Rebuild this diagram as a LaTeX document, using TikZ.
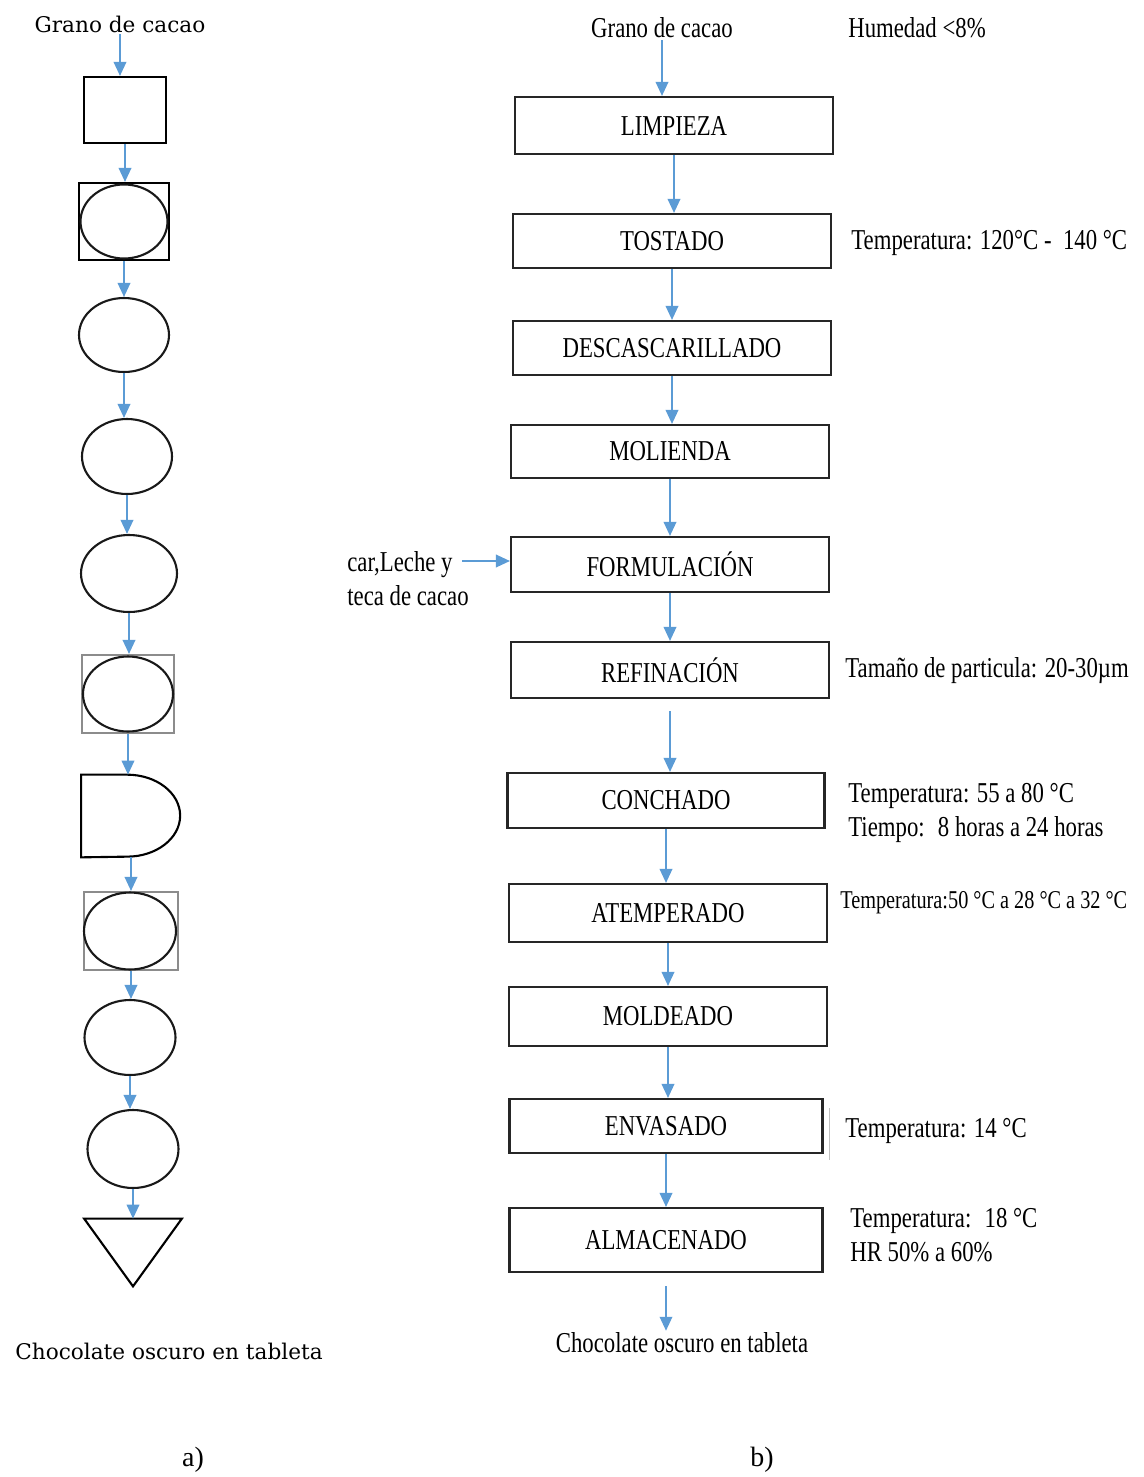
\documentclass[tikz,border=0pt]{standalone}
\usepackage{fontspec}
\setmainfont{Liberation Serif}
\newfontfamily\condfont[FakeStretch=0.79]{Liberation Serif}
\newfontfamily\slabfont{DejaVu Serif}
\usetikzlibrary{positioning, arrows.meta, shapes.geometric, calc}
\definecolor{flowBlue}{HTML}{5B9BD5}
\definecolor{edgeGray}{HTML}{8C8C8C}
\newcommand{\stepfont}{\condfont\fontsize{16.4}{19.3}\selectfont}
\newcommand{\smallstepfont}{\condfont\fontsize{14.6}{17}\selectfont}
\newcommand{\leftfont}{\slabfont\fontsize{12.3}{15}\selectfont}
\tikzset{
  stepbox/.style={rectangle, draw=black!85, line width=1.2pt, inner sep=0pt,
    font=\stepfont},
  flow/.style={-{Triangle[length=2.8mm, width=2.5mm]}, line width=1.1pt, flowBlue},
  opbox/.style={rectangle, draw=black, line width=1.2pt, inner sep=0pt},
  opgray/.style={rectangle, draw=edgeGray, line width=1.2pt, inner sep=0pt},
  opoval/.style={ellipse, draw=black!90, line width=1.2pt, inner sep=0pt},
  holder/.style={rectangle, inner sep=0pt},
  note/.style={anchor=west, align=left, inner sep=0pt, font=\stepfont},
  leftlabel/.style={inner sep=1pt, font=\leftfont},
}

\begin{document}
\begin{tikzpicture}[x=0.02cm, y=-0.02cm]
    \useasboundingbox (0,0) rectangle (1143,1477);
    % ---------------- Panel a: symbols ----------------
    \node[leftlabel] (lg) at (120,24) {Grano de cacao};
    \node[opbox, minimum width=1.64cm, minimum height=1.32cm] (l1) at (125,110) {};
    \node[opbox, minimum width=1.8cm, minimum height=1.54cm] (l2) at (124,221.5) {};
    \node[opoval, minimum width=1.74cm, minimum height=1.48cm] (l2o) at (124,221.5) {};
    \node[opoval, minimum width=1.8cm, minimum height=1.48cm] (l3) at (124,335) {};
    \node[opoval, minimum width=1.8cm, minimum height=1.5cm] (l4) at (127,456.5) {};
    \node[opoval, minimum width=1.92cm, minimum height=1.54cm] (l5) at (129,573.5) {};
    \node[opgray, minimum width=1.84cm, minimum height=1.56cm] (l6) at (128,694) {};
    \node[opoval, minimum width=1.8cm, minimum height=1.5cm] (l6o) at (128,694) {};
    % delay symbol
    \node[holder, minimum width=1.98cm, minimum height=1.64cm] (l7) at (131,816) {};
    \draw[black, line width=1.2pt] (l7.south west) -- (l7.north west)
      -- ++(0.92cm,0pt) arc[start angle=90, end angle=-90,
         x radius=1.06cm, y radius=0.82cm] -- cycle;
    \node[opgray, minimum width=1.88cm, minimum height=1.56cm] (l8) at (131,931) {};
    \node[opoval, minimum width=1.84cm, minimum height=1.54cm] (l8o) at (130,931) {};
    \node[opoval, minimum width=1.82cm, minimum height=1.5cm] (l9) at (130,1037.5) {};
    \node[opoval, minimum width=1.82cm, minimum height=1.56cm] (l10) at (133,1149) {};
    % storage symbol
    \node[holder, minimum width=1.94cm, minimum height=1.34cm] (l11) at (133,1252.5) {};
    \draw[black, line width=1.2pt, line join=miter]
      (l11.north west) -- (l11.north east) -- (l11.south) -- cycle;
    \node[leftlabel] (lout) at (169,1351) {Chocolate oscuro en tableta};
    \draw[flow] (lg) -- (lg |- l1.north);
    \foreach \a/\b in {l1/l2,l2/l3,l3/l4,l4/l5,l5/l6,l6/l7,l7/l8,l8/l9,l9/l10,l10/l11}
      \draw[flow] (\a) -- (\a |- \b.north);
    \node[font=\fontsize{15.9}{18}\selectfont] (capa) at (193,1460) {a)};
    % ---------------- Panel b: process steps ----------------
    \node[inner sep=1pt, font=\stepfont] (rg) at (662,28) {Grano de cacao};
    \foreach \nm/\cx/\cy/\w/\h/\txt in {
        p1/674/125.5/6.36/1.14/LIMPIEZA,
        p2/672/241/6.36/1.08/TOSTADO,
        p3/672/348/6.36/1.08/DESCASCARILLADO,
        p4/670/451.5/6.36/1.06/MOLIENDA,
        p5/670/564.5/6.36/1.1/FORMULACIÓN,
        p6/670/670/6.36/1.12/REFINACIÓN,
        p7/666/800.5/6.34/1.1/CONCHADO,
        p8/668/913/6.36/1.16/ATEMPERADO,
        p9/668/1016.5/6.36/1.18/MOLDEADO,
        p10/666/1126/6.26/1.08/ENVASADO,
        p11/666/1240/6.26/1.28/ALMACENADO}
      \node[stepbox, minimum width=\w cm, minimum height=\h cm] (\nm) at (\cx,\cy) {\txt};
    \node[inner sep=1pt, font=\stepfont] (rout) at (682,1343) {Chocolate oscuro en tableta};
    \draw[flow] (rg) -- (rg |- p1.north);
    \foreach \a/\b in {p1/p2,p2/p3,p3/p4,p4/p5,p5/p6,p7/p8,p8/p9,p9/p10,p10/p11}
      \draw[flow] (\a) -- (\a |- \b.north);
    \draw[flow, shorten <=0.24cm] (p6) -- (p6 |- p7.north);
    \draw[flow, shorten <=0.26cm] (p11) -- (p11 |- rout.north);
    % ingredients in
    \node[note, anchor=north west] (ingr) at (347,551) {car,Leche y\\teca de cacao};
    \coordinate (inl) at (462,561);
    \draw[flow] (inl) -- (inl -| p5.west);
    % conditions
    \node[note] (hum) at (848,28) {Humedad <8\%};
    \node[note] (n2) at (851,243) {Temperatura: 120°C -~ 140 °C};
    \node[note] (n6) at (845,671) {Tamaño de particula: 20-30µm};
    \node[note] (n7) at (848,813) {Temperatura: 55 a 80 °C\\Tiempo: ~8 horas a 24 horas};
    \node[note, font=\smallstepfont] (n8) at (840,903) {Temperatura:50 °C a 28 °C a 32 °C};
    \draw[black!25, line width=0.5pt] (829,1108) -- (829,1160);
    \node[note] (n10) at (845,1131) {Temperatura: 14 °C};
    \node[note] (n11) at (850,1235) {Temperatura: ~18 °C\\HR 50\% a 60\%};
    \node[font=\fontsize{15.9}{18}\selectfont] (capb) at (762,1460) {b)};
\end{tikzpicture}
\end{document}
